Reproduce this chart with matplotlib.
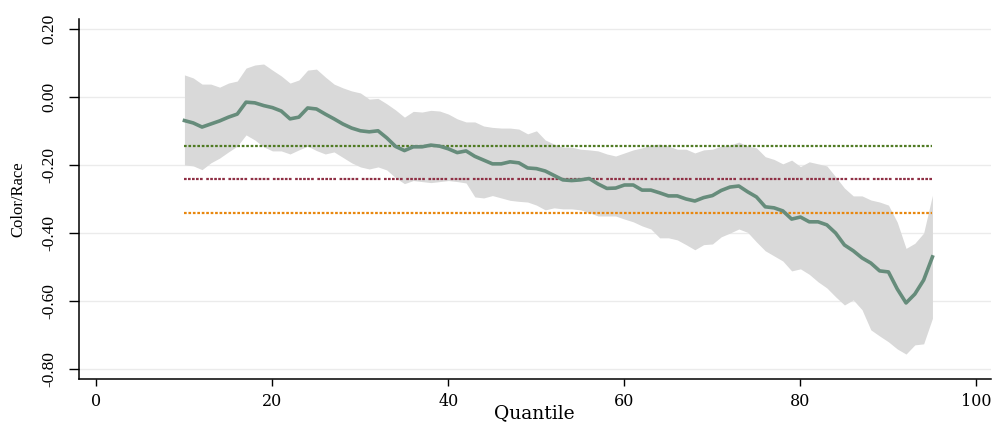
import matplotlib
matplotlib.use("Agg")
import matplotlib.pyplot as plt
import numpy as np

# quantiles 10..95
quantile = list(range(10, 96))

# point estimate
coef = [-0.070, -0.077, -0.089, -0.080, -0.071, -0.060, -0.051, -0.016, -0.018, -0.026,
        -0.032, -0.042, -0.065, -0.060, -0.033, -0.036, -0.051, -0.065, -0.080, -0.092,
        -0.100, -0.103, -0.100, -0.121, -0.146, -0.158, -0.147, -0.147, -0.142, -0.145,
        -0.153, -0.164, -0.159, -0.175, -0.186, -0.197, -0.197, -0.191, -0.194, -0.209,
        -0.211, -0.218, -0.231, -0.244, -0.246, -0.244, -0.240, -0.256, -0.269, -0.268,
        -0.259, -0.259, -0.274, -0.274, -0.282, -0.291, -0.291, -0.300, -0.306, -0.296,
        -0.290, -0.275, -0.265, -0.262, -0.279, -0.294, -0.323, -0.326, -0.335, -0.359,
        -0.353, -0.367, -0.367, -0.376, -0.400, -0.435, -0.452, -0.473, -0.488, -0.511,
        -0.514, -0.564, -0.605, -0.579, -0.538, -0.470]

# confidence band
upper = [0.064, 0.055, 0.037, 0.037, 0.028, 0.040, 0.046, 0.084, 0.093, 0.096,
         0.078, 0.061, 0.040, 0.049, 0.078, 0.081, 0.058, 0.037, 0.026, 0.017,
         0.011, -0.007, -0.005, -0.021, -0.039, -0.060, -0.043, -0.045, -0.040, -0.042,
         -0.051, -0.065, -0.074, -0.074, -0.086, -0.090, -0.092, -0.092, -0.095, -0.109,
         -0.100, -0.127, -0.139, -0.148, -0.148, -0.154, -0.156, -0.159, -0.168, -0.174,
         -0.165, -0.156, -0.150, -0.142, -0.139, -0.145, -0.154, -0.154, -0.165, -0.156,
         -0.154, -0.145, -0.142, -0.133, -0.145, -0.150, -0.176, -0.184, -0.197, -0.186,
         -0.205, -0.191, -0.197, -0.203, -0.235, -0.268, -0.291, -0.291, -0.303, -0.309,
         -0.318, -0.368, -0.445, -0.430, -0.400, -0.289]
lower = [-0.200, -0.203, -0.214, -0.194, -0.180, -0.162, -0.145, -0.112, -0.127, -0.147,
         -0.159, -0.159, -0.168, -0.156, -0.145, -0.158, -0.168, -0.162, -0.178, -0.194,
         -0.206, -0.212, -0.206, -0.215, -0.238, -0.255, -0.246, -0.249, -0.252, -0.249,
         -0.246, -0.249, -0.253, -0.294, -0.297, -0.290, -0.297, -0.304, -0.307, -0.309,
         -0.318, -0.332, -0.326, -0.329, -0.329, -0.332, -0.340, -0.350, -0.350, -0.350,
         -0.359, -0.367, -0.379, -0.388, -0.414, -0.414, -0.420, -0.434, -0.449, -0.434,
         -0.432, -0.411, -0.400, -0.388, -0.398, -0.426, -0.452, -0.467, -0.482, -0.511,
         -0.505, -0.521, -0.543, -0.561, -0.587, -0.611, -0.596, -0.625, -0.684, -0.702,
         -0.719, -0.740, -0.755, -0.728, -0.725, -0.650]

# reference levels
ref_values = [-0.146, -0.242, -0.340]
ref_colors = ["#4f7a22", "#8f3045", "#e8870e"]
ref_styles = [(0, (1.2, 0.8)), (0, (1.2, 0.6, 1.2, 0.6, 1.2, 0.6, 1.2, 0.6, 1.2, 1.6)), (0, (1.2, 0.8))]

yticks = [0.20, 0.00, -0.20, -0.40, -0.60, -0.80]
xticks = [0, 20, 40, 60, 80, 100]

plt.rcParams['font.family'] = ['Liberation Serif', 'DejaVu Serif']

fig = plt.figure(figsize=(9.94, 4.22), dpi=100)
ax = fig.add_axes([0.0795, 0.102, 0.917, 0.853])

for yv in yticks:
    ax.axhline(yv, color="#ebebeb", lw=1.0, zorder=0)

ax.fill_between(quantile, lower, upper, color="#d9d9d9", lw=0, zorder=1)

for val, col, ls in zip(ref_values, ref_colors, ref_styles):
    ax.plot([quantile[0], quantile[-1]], [val, val], color=col, lw=1.6, linestyle=ls, zorder=2)

ax.plot(quantile, coef, color="#668c7b", lw=2.6, zorder=3)

ax.set_xlim(-1.98, 101.6)
ax.set_ylim(-0.828, 0.228)
ax.set_xticks(xticks)
ax.set_yticks(yticks)
ax.set_xticklabels([str(v) for v in xticks], family=['DejaVu Serif'], fontsize=11.5)
ax.set_yticklabels([f"{v:.2f}" for v in yticks], rotation=90, va="center",
                   family=['Liberation Serif'], fontsize=12.5)
ax.tick_params(axis="x", direction="out", length=5, width=1, pad=5)
ax.tick_params(axis="y", direction="out", length=7.5, width=1, pad=8)
ax.spines["top"].set_visible(False)
ax.spines["right"].set_visible(False)
ax.spines["left"].set_linewidth(1.1)
ax.spines["bottom"].set_linewidth(1.1)

ax.set_xlabel("Quantile", fontsize=13.5, family=['DejaVu Serif'])
ax.xaxis.set_label_coords(0.5, -0.069)
ax.set_ylabel("Color/Race", fontsize=12)
ax.yaxis.set_label_coords(-0.058, 0.5)

fig.savefig("out.png", dpi=100)
